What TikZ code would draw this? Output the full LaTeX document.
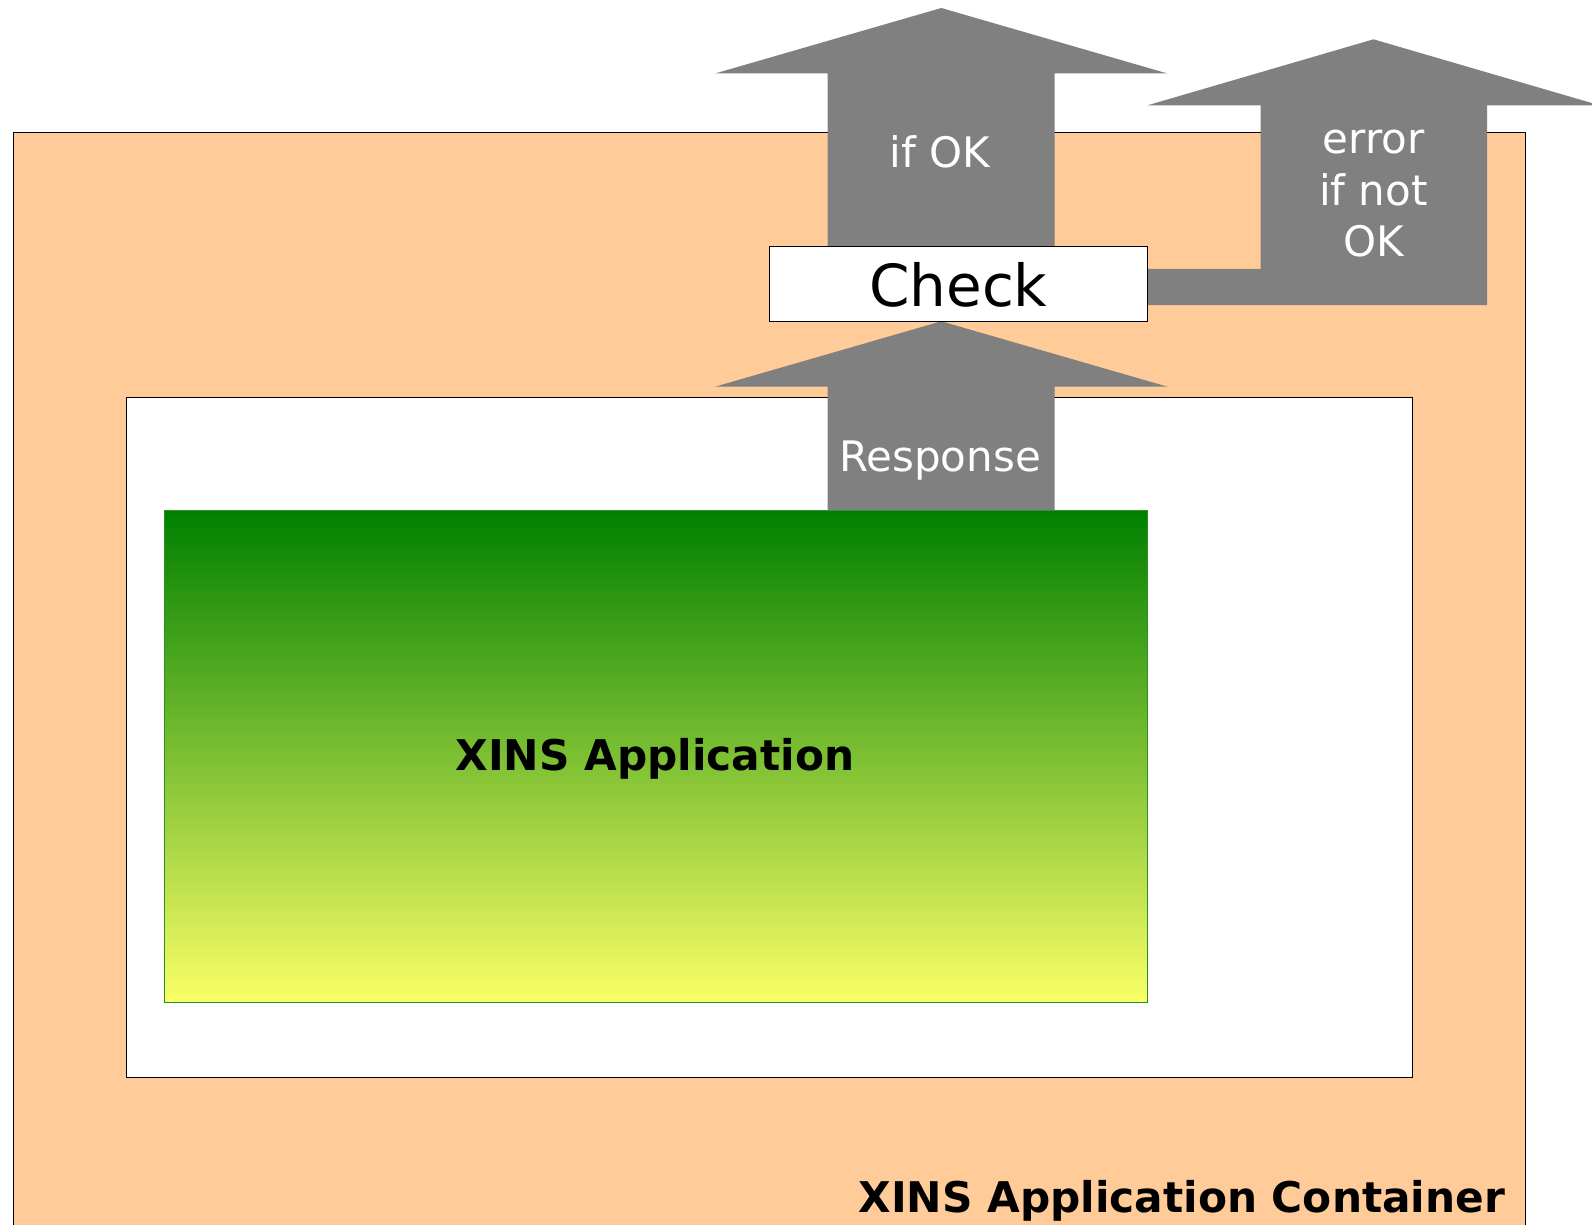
\documentclass[tikz,border=0pt]{standalone}
\usepackage{fontspec}
\setmainfont{DejaVu Sans}
\definecolor{peach}{HTML}{FFCC99}
\definecolor{arrowgray}{HTML}{808080}
\definecolor{apptop}{RGB}{0,128,0}
\definecolor{appbot}{RGB}{250,255,102}
\begin{document}
\begin{tikzpicture}[x=1pt,y=-1pt,
  every node/.style={inner sep=0pt, outer sep=0pt},
  boxline/.style={draw=black, line width=1pt},
  blockarrow/.style={fill=arrowgray, draw=none},
  arrowlabel/.style={text=white, font=\fontsize{42}{51}\selectfont, align=center},
  boldlabel/.style={font=\fontsize{42.3}{50}\selectfont\bfseries}]
\useasboundingbox (0,0) rectangle (1592,1225);
\clip (0,0) rectangle (1592,1225);

% outer container
\node[boxline, fill=peach, anchor=north west, minimum width=1512.5pt, minimum height=1140pt] (container) at (13.2,132.3) {};
% inner white box
\node[boxline, fill=white, anchor=north west, minimum width=1286pt, minimum height=680.3pt] (inner) at (126,397) {};
% XINS application
\node[draw=apptop!85!white, line width=1pt, top color=apptop, bottom color=appbot, anchor=north west, minimum width=983pt, minimum height=492pt] (app) at (164.4,510.3) {};
\node[boldlabel, anchor=base] (applabel) at (655,770) {XINS Application};

% container label
\node[boldlabel, anchor=base east] (containerlabel) at (1505,1212) {XINS Application Container};

% check box geometry
\coordinate (chkNW) at (769.5,246);

% response arrow
\coordinate (resptip) at (941.3,321.3);
\fill[blockarrow] (resptip) -- (1167.5,386.7) -- (1054.5,386.7) -- (1054.5,510.3) -- (827.5,510.3) -- (827.5,386.7) -- (715,386.7) -- cycle;
\node[arrowlabel, anchor=base] (resplabel) at (940,471.7) {Response};

% if OK arrow
\coordinate (oktip) at (941.3,8);
\fill[blockarrow] (oktip) -- (1167.5,73.5) -- (1054.5,73.5) -- (1054.5,246.5) -- (827.5,246.5) -- (827.5,73.5) -- (715,73.5) -- cycle;
\node[arrowlabel, anchor=base] (oklabel) at (940,167.7) {if OK};

% error arrow
\coordinate (errtip) at (1373.5,39.3);
\fill[blockarrow] (1146,268.8) -- (1260.5,268.8) -- (1260.5,105.3) -- (1147.5,105.3) -- (errtip) -- (1599.5,105.3) -- (1487,105.3) -- (1487,305) -- (1146,305) -- cycle;
\node[arrowlabel, anchor=base] (errlabel1) at (1373.5,154) {error};
\node[arrowlabel, anchor=base] (errlabel2) at (1373.5,205.3) {if not};
\node[arrowlabel, anchor=base] (errlabel3) at (1373.5,256.6) {OK};

% check box
\node[boxline, fill=white, anchor=north west, minimum width=377.8pt, minimum height=75.3pt] (check) at (chkNW) {};
\node[font=\fontsize{58}{60}\selectfont, anchor=base] (checklabel) at (958.3,306.7) {Check};
\end{tikzpicture}
\end{document}
